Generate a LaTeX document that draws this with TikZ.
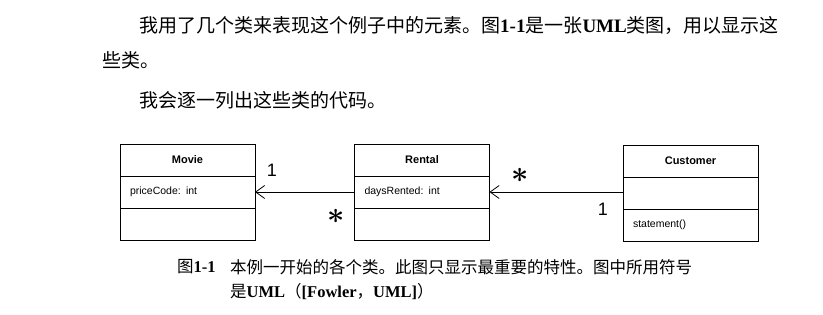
\documentclass[tikz,border=0pt]{standalone}
\usepackage{fontspec}
\setmainfont{Liberation Serif}
\setsansfont{Liberation Sans}
\newfontfamily\cjk{Noto Sans CJK SC}
\usetikzlibrary{arrows.meta, positioning}

\begin{document}
\begin{tikzpicture}[
    x=1pt, y=-1pt,
    classname/.style={draw, line width=0.8pt, font=\sffamily\bfseries\fontsize{11}{13}\selectfont, align=center, minimum width=135pt, text width=115pt, minimum height=32pt, inner sep=0pt, outer sep=0pt},
    classpart/.style={draw, line width=0.8pt, font=\sffamily\fontsize{10.5}{12}\selectfont, align=left, text width=115pt, minimum height=32pt, inner xsep=10pt, inner ysep=0pt, outer sep=0pt},
    assoc/.style={-{Straight Barb[length=9pt, width=13pt]}, line width=0.8pt},
    mult/.style={font=\sffamily\fontsize{18}{18}\selectfont, inner sep=0pt},
    many/.style={inner sep=0pt, font=\boldmath},
    bodytext/.style={anchor=west, inner sep=0pt, font=\fontsize{19}{19}\selectfont},
    captext/.style={anchor=west, inner sep=0pt, font=\fontsize{16.5}{16.5}\selectfont}
]
\useasboundingbox (0,0) rectangle (823,315);

% text above the figure
\node[bodytext] (para1) at (139,25) {{\cjk 我用了几个类来表现这个例子中的元素。图}\textbf{1-1}{\cjk 是一张}\textbf{UML}{\cjk 类图，用以显示这}};
\node[bodytext] (para2) at (102,60) {\cjk 些类。};
\node[bodytext] (para3) at (139,100) {\cjk 我会逐一列出这些类的代码。};

% classes
\node[classname] (movie) at (187.5,160) {Movie};
\node[classpart, below=0pt of movie] (movieAttr) {priceCode: int};
\node[classpart, below=0pt of movieAttr] (movieOps) {};

\node[classname] (rental) at (422,160) {Rental};
\node[classpart, below=0pt of rental] (rentalAttr) {daysRented: int};
\node[classpart, below=0pt of rentalAttr] (rentalOps) {};

\node[classname] (customer) at (690.5,161) {Customer};
\node[classpart, below=0pt of customer] (customerAttr) {};
\node[classpart, below=0pt of customerAttr] (customerOps) {statement()};

% associations
\draw[assoc] (rentalAttr.west) -- (movieAttr.east)
    node[mult, at end, xshift=17pt, yshift=22pt] {1}
    node[many, at start, xshift=-18pt, yshift=-24pt] {\scalebox{3}{$\ast$}};
\draw[assoc] (customerAttr.west |- rentalAttr.east) -- (rentalAttr.east)
    node[many, at end, xshift=31pt, yshift=17pt] {\scalebox{3}{$\ast$}}
    node[mult, at start, xshift=-20pt, yshift=-17pt] {1};

% caption
\node[captext] (figNum) at (177,267) {{\cjk 图}\textbf{1-1}};
\node[captext] (caption1) at (230,267) {\cjk 本例一开始的各个类。此图只显示最重要的特性。图中所用符号};
\node[captext] (caption2) at (230,292) {{\cjk 是}\textbf{UML}{\cjk （}\textbf{[Fowler}{\cjk ，}\textbf{UML]}{\cjk ）}};

\end{tikzpicture}
\end{document}
